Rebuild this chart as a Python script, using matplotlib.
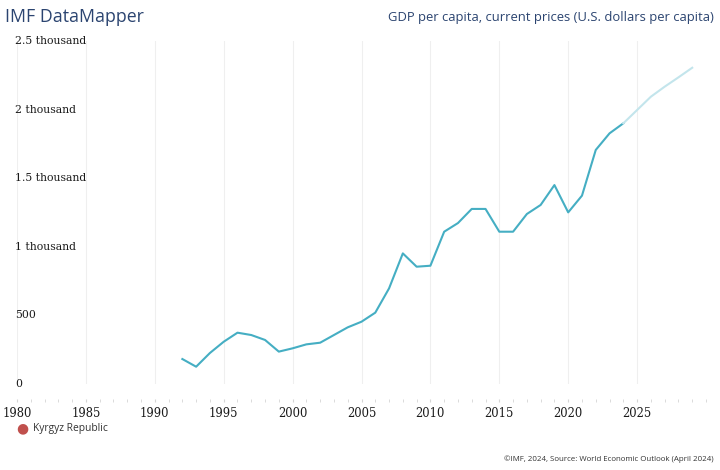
import matplotlib.pyplot as plt
from matplotlib.transforms import blended_transform_factory

# GDP per capita, Kyrgyz Republic (U.S. dollars)
years = list(range(1992, 2025))
gdp = [182, 126, 226, 308, 374, 357, 321, 236, 260, 289, 301, 357, 413, 454,
       520, 697, 952, 855, 862, 1110, 1173, 1276, 1276, 1110, 1110, 1239, 1305,
       1450, 1251, 1373, 1706, 1827, 1900]
proj_years = [2024, 2025, 2026, 2027, 2028, 2029]
proj_gdp = [1900, 1997, 2094, 2167, 2235, 2305]

ytick_vals = [0, 500, 1000, 1500, 2000, 2500]
ytick_labels = ["0", "500", "1 thousand", "1.5 thousand", "2 thousand", "2.5 thousand"]
xtick_vals = [1980, 1985, 1990, 1995, 2000, 2005, 2010, 2015, 2020, 2025]

navy = "#2b4470"
line_col = "#45aec3"
proj_col = "#c3e5ec"

fig = plt.figure(figsize=(7.2, 4.7), dpi=100)
ax = fig.add_axes([17 / 720, 1 - 384 / 470, 689 / 720, 343 / 470])

ax.plot(years, gdp, color=line_col, lw=1.5, zorder=3)
ax.plot(proj_years, proj_gdp, color=proj_col, lw=1.5, zorder=3)

ax.set_xlim(1980, 2030)
ax.set_ylim(0, 2500)

for s in ax.spines.values():
    s.set_visible(False)
ax.spines['bottom'].set_position(('outward', 11))

ax.set_xticks(xtick_vals)
ax.set_xticklabels([str(v) for v in xtick_vals], fontfamily="DejaVu Serif",
                   fontsize=8.3, color="#1a1a1a")
ax.set_xticks(range(1980, 2031), minor=True)
ax.tick_params(axis='x', which='both', length=2.5, color="#d5d5d5", pad=3)
ax.set_yticks([])
ax.grid(axis='x', color="#efefef", lw=0.8)
ax.set_axisbelow(True)

tr = blended_transform_factory(ax.transAxes, ax.transData)
for v, lab in zip(ytick_vals, ytick_labels):
    ax.text(-0.003, v, lab, transform=tr, ha='left', va='center',
            fontfamily="DejaVu Serif", fontsize=7.8, color="#1a1a1a")

fig.text(5 / 720, 1 - 17 / 470, "IMF DataMapper", fontfamily="Open Sans",
         fontsize=12.8, color=navy, ha='left', va='center')
fig.text(714 / 720, 1 - 17 / 470,
         "GDP per capita, current prices (U.S. dollars per capita)",
         fontfamily="Open Sans", fontsize=9.4, color=navy, ha='right', va='center')

fig.text(22 / 720, 1 - 428 / 470, "\u25CF", fontfamily="DejaVu Sans",
         fontsize=10, color="#c0504d", ha='center', va='center')
fig.text(33 / 720, 1 - 428 / 470, "Kyrgyz Republic", fontfamily="Open Sans",
         fontsize=7.4, color="#333333", ha='left', va='center')
fig.text(714 / 720, 1 - 459 / 470,
         "\u00a9IMF, 2024, Source: World Economic Outlook (April 2024)",
         fontfamily="Open Sans", fontsize=5.7, color="#333333", ha='right', va='center')

fig.savefig("out.png", dpi=100)
